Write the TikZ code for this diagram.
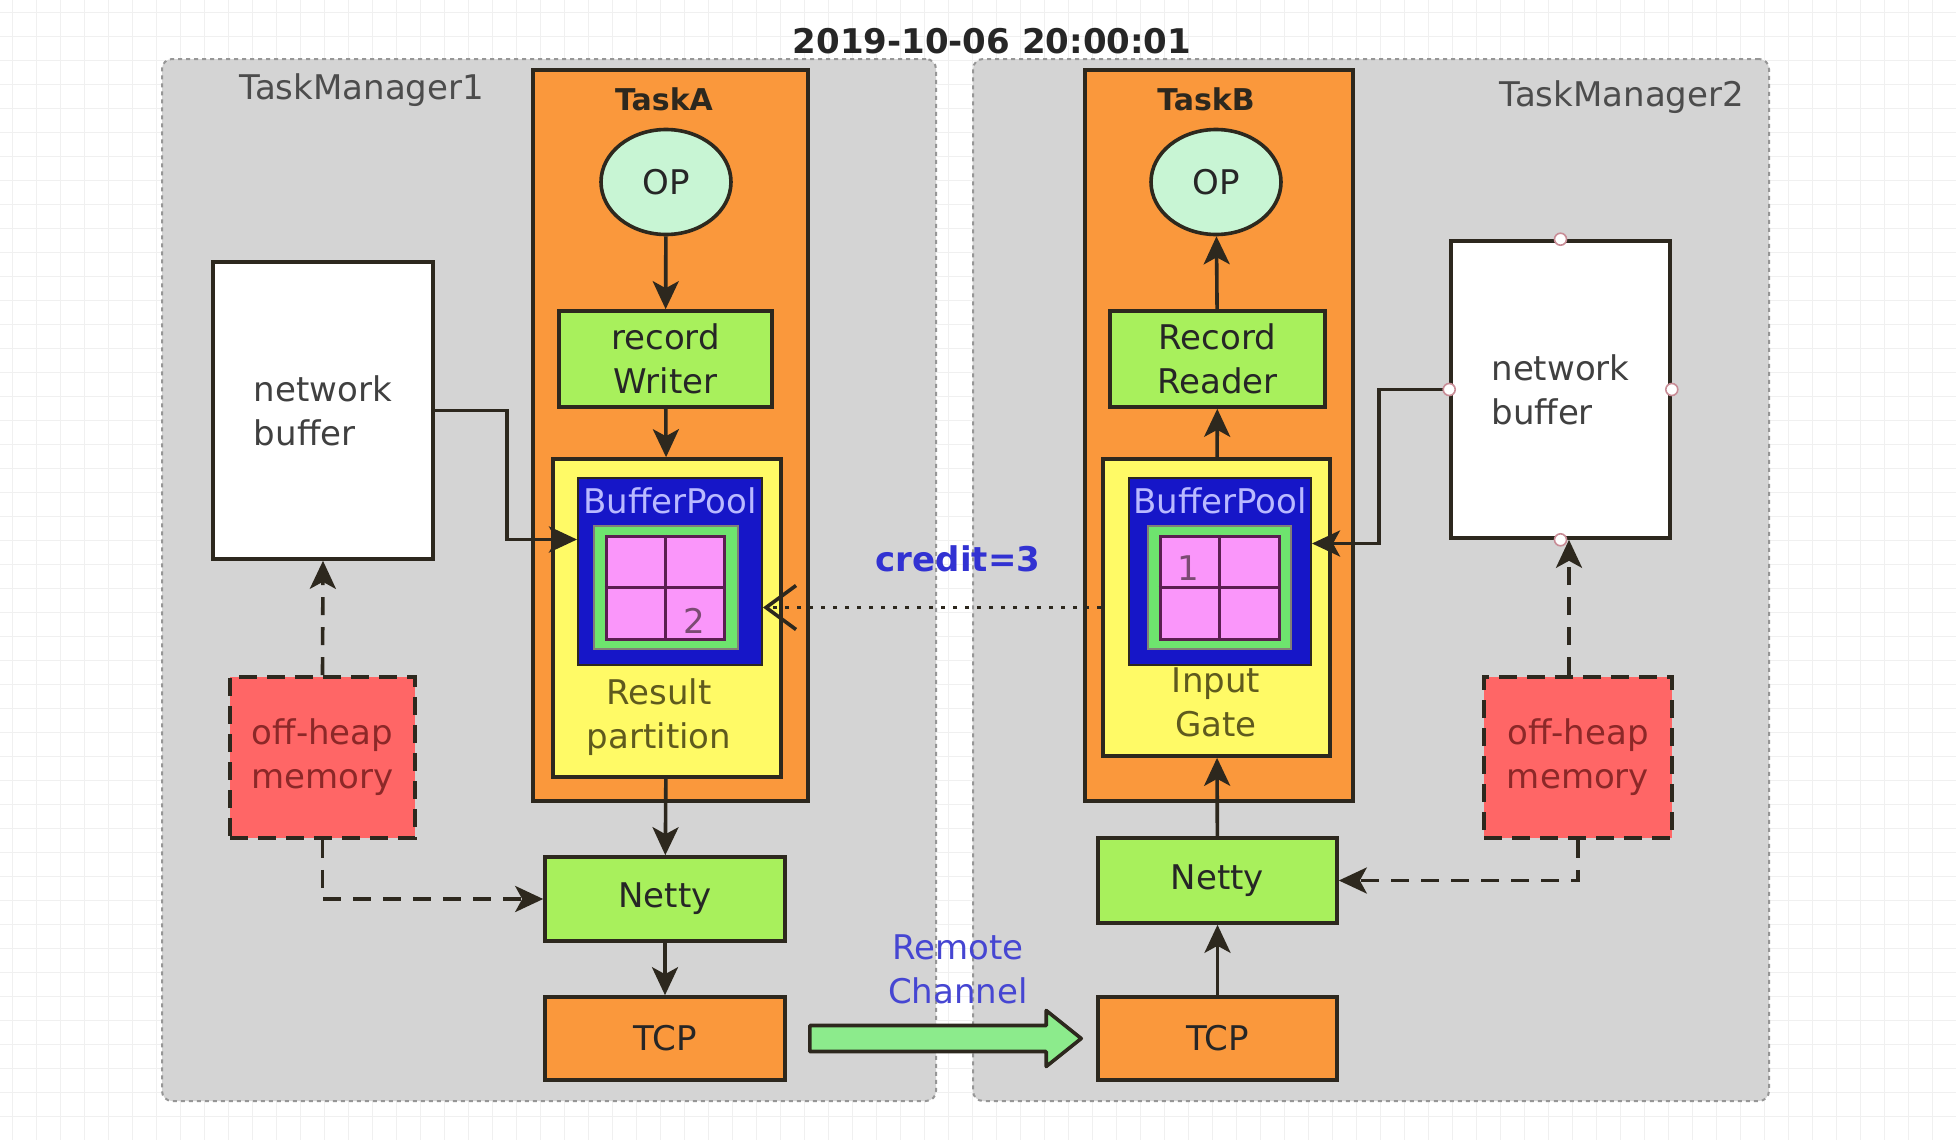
\documentclass[tikz,border=0pt]{standalone}
\usepackage{fontspec}
\setmainfont{DejaVu Sans}
\usetikzlibrary{arrows.meta,calc,shapes.geometric}

\definecolor{tmgray}{RGB}{212,212,212}
\definecolor{tmline}{RGB}{150,150,150}
\definecolor{darkline}{RGB}{45,40,30}
\definecolor{taskorange}{RGB}{250,152,60}
\definecolor{opmint}{RGB}{200,245,212}
\definecolor{boxgreen}{RGB}{168,240,92}
\definecolor{partyellow}{RGB}{255,250,102}
\definecolor{poolblue}{RGB}{22,22,200}
\definecolor{poolgreen}{RGB}{110,228,110}
\definecolor{cellpink}{RGB}{250,150,250}
\definecolor{cellline}{RGB}{90,30,80}
\definecolor{heapred}{RGB}{255,102,102}
\definecolor{heaptext}{RGB}{140,40,40}
\definecolor{olivetext}{RGB}{95,90,30}
\definecolor{lavender}{RGB}{185,185,255}
\definecolor{creditblue}{RGB}{50,50,210}
\definecolor{remoteblue}{RGB}{70,70,210}
\definecolor{rcgreen}{RGB}{140,235,140}
\definecolor{portpink}{RGB}{200,140,150}

\newcommand{\diagfont}{\fontsize{17}{22}\selectfont}

\tikzset{
  gridline/.style={draw=black!6, line width=0.4pt},
  tm/.style={draw=tmline, fill=tmgray, line width=1pt, dash pattern=on 2pt off 2pt, rounded corners=5pt, inner sep=0pt},
  tmlabel/.style={font=\diagfont, text=black!70},
  task/.style={draw=darkline, fill=taskorange, line width=1.8pt, inner sep=0pt},
  tasklabel/.style={font=\fontsize{15}{18}\selectfont\bfseries, text=darkline},
  box/.style={draw=darkline, line width=1.8pt, inner sep=0pt, align=center, font=\diagfont, text=black!85},
  greenbox/.style={box, fill=boxgreen},
  heapbox/.style={box, fill=heapred, dash pattern=on 9pt off 5pt, text=heaptext},
  poolbox/.style={draw=darkline, fill=poolblue, line width=1pt, inner sep=0pt},
  flow/.style={draw=darkline, line width=1.8pt, -{Stealth[length=14pt,width=13pt,inset=3.5pt]}},
  dashflow/.style={flow, dash pattern=on 9pt off 6pt},
  port/.style={circle, draw=portpink, fill=white, line width=0.8pt, minimum size=6pt, inner sep=0pt}
}

\begin{document}
\begin{tikzpicture}[x=0.5pt,y=-0.5pt]
\useasboundingbox (0,0) rectangle (1956,1140);
\fill[white] (0,0) rectangle (1956,1140);
\foreach \gx in {12,36,...,1956} \draw[gridline] (\gx,0) -- (\gx,1140);
\foreach \gy in {12,36,...,1140} \draw[gridline] (0,\gy) -- (1956,\gy);

% task managers
\node[tm, minimum width=387pt, minimum height=521pt] (tm1) at (549,580) {};
\node[tm, minimum width=398pt, minimum height=521pt] (tm2) at (1371,580) {};
\node[font=\fontsize{17}{20}\selectfont\bfseries, text=black!85] (date) at (992,41) {2019-10-06 20:00:01};
\node[tmlabel] (tm1name) at (362,90) {TaskManager1};
\node[tmlabel] (tm2name) at (1622,97) {TaskManager2};

% TaskA
\node[task, minimum width=137.5pt, minimum height=365.5pt] (taskA) at (670.5,435.5) {};
\node[tasklabel] (taskAname) at (664,99) {TaskA};
\node[box, ellipse, fill=opmint, minimum width=65pt, minimum height=52.5pt] (opL) at (666,182) {OP};
\node[greenbox, minimum width=106.5pt, minimum height=48pt] (writer) at (665.5,359) {record\\Writer};
\node[box, fill=partyellow, minimum width=114pt, minimum height=159pt] (result) at (667,618) {};
\node[font=\diagfont, text=olivetext, align=center] (resulttext) at (659,717) {Result\\partition};
\node[poolbox, minimum width=92pt, minimum height=93.5pt] (poolL) at (670,571.5) {};
\node[font=\diagfont, text=lavender] (poolLname) at (670,501) {BufferPool};
\node[draw=darkline!60, fill=poolgreen, line width=0.6pt, minimum width=72pt, minimum height=61.5pt, inner sep=0pt] (greenL) at (666,587.5) {};
\node[draw=cellline, fill=cellpink, line width=1.5pt, minimum width=59pt, minimum height=51.5pt, inner sep=0pt] (cellsL) at (665,587.5) {};
\draw[draw=cellline, line width=1.5pt] (cellsL.north) -- (cellsL.south) (cellsL.west) -- (cellsL.east);
\node[font=\diagfont, text=cellline!80] (numL) at (694,621) {2};

% TaskB
\node[task, minimum width=134pt, minimum height=365.5pt] (taskB) at (1219,435.5) {};
\node[tasklabel] (taskBname) at (1206,99) {TaskB};
\node[box, ellipse, fill=opmint, minimum width=65pt, minimum height=52.5pt] (opR) at (1216,182) {OP};
\node[greenbox, minimum width=107.5pt, minimum height=48pt] (reader) at (1217.5,359) {Record\\Reader};
\node[box, fill=partyellow, minimum width=113.5pt, minimum height=148.5pt] (gate) at (1216.5,607.5) {};
\node[font=\diagfont, text=olivetext, align=center] (gatetext) at (1216,702) {Input\\Gate};
\node[poolbox, minimum width=91pt, minimum height=93.5pt] (poolR) at (1220,571.5) {};
\node[font=\diagfont, text=lavender] (poolRname) at (1220,501) {BufferPool};
\node[draw=darkline!60, fill=poolgreen, line width=0.6pt, minimum width=71.5pt, minimum height=61.5pt, inner sep=0pt] (greenR) at (1219.5,587.5) {};
\node[draw=cellline, fill=cellpink, line width=1.5pt, minimum width=59.5pt, minimum height=51.5pt, inner sep=0pt] (cellsR) at (1219.5,587.5) {};
\draw[draw=cellline, line width=1.5pt] (cellsR.north) -- (cellsR.south) (cellsR.west) -- (cellsR.east);
\node[font=\diagfont, text=cellline!80] (numR) at (1188,568) {1};

% buffers, memory, netty, tcp
\node[box, fill=white, minimum width=110pt, minimum height=148.5pt, align=left, text=black!75] (nbL) at (323,410.5) {network\\buffer};
\node[box, fill=white, minimum width=109.5pt, minimum height=148.5pt, align=left, text=black!75] (nbR) at (1560.5,389.5) {network\\buffer};
\node[heapbox, minimum width=92.5pt, minimum height=80.5pt] (offL) at (322.5,757.5) {off-heap\\memory};
\node[heapbox, minimum width=94pt, minimum height=80.5pt] (offR) at (1578,757.5) {off-heap\\memory};
\node[greenbox, minimum width=120pt, minimum height=42pt] (nettyL) at (665,899) {Netty};
\node[greenbox, minimum width=119.5pt, minimum height=42.5pt] (nettyR) at (1217.5,880.5) {Netty};
\node[box, fill=taskorange, minimum width=120pt, minimum height=41.5pt] (tcpL) at (665,1038.5) {TCP};
\node[box, fill=taskorange, minimum width=119.5pt, minimum height=41.5pt] (tcpR) at (1217.5,1038.5) {TCP};

% sending side
\draw[flow] (opL) -- (writer);
\draw[flow] (writer) -- (result);
\draw[flow] (nbL.east) -- ++(72,0) |- ([yshift=16pt]poolL.west);
\draw[dashflow] (offL.north) -- (nbL.south);
\draw[dashflow] (offL.south) |- (nettyL.west);
\draw[flow] (result) -- (nettyL);
\draw[flow] (nettyL) -- (tcpL);

% receiving side
\draw[flow] (tcpR) -- (nettyR);
\draw[flow] (nettyR) -- (gate);
\draw[flow] (gate) -- (reader);
\draw[flow] (reader) -- (opR);
\draw[flow] (nbR.west) -- ++(-70,0) |- ([yshift=14pt]poolR.east);
\draw[dashflow] ([xshift=-4.5pt]offR.north) -- ([xshift=-4.5pt]offR.north |- nbR.south);
\draw[dashflow] (offR.south) |- (nettyR.east);
\foreach \p in {north,south,east,west} \node[port] at (nbR.\p) {};

% credit and remote channel
\draw[draw=darkline, line width=1.8pt, dash pattern=on 2pt off 4pt, -{Straight Barb[length=15pt,width=22pt]}] (gate.west) -- (gate.west -| poolL.east);
\node[font=\diagfont\bfseries, text=creditblue] (credit) at (958,559) {credit=3};
\coordinate (rcA) at ($(tcpL.east)+(23,0)$);
\coordinate (rcB) at ($(tcpR.west)+(-15,0)$);
\draw[draw=darkline, fill=rcgreen, line width=1.8pt, line join=round]
  ($(rcA)+(0,-13)$) -- ($(rcB)+(-35,-13)$) -- ($(rcB)+(-35,-28)$) -- (rcB)
  -- ($(rcB)+(-35,28)$) -- ($(rcB)+(-35,13)$) -- ($(rcA)+(0,13)$) -- cycle;
\node[font=\diagfont, text=remoteblue, align=center] (remote) at (958,969) {Remote\\Channel};
\end{tikzpicture}
\end{document}
